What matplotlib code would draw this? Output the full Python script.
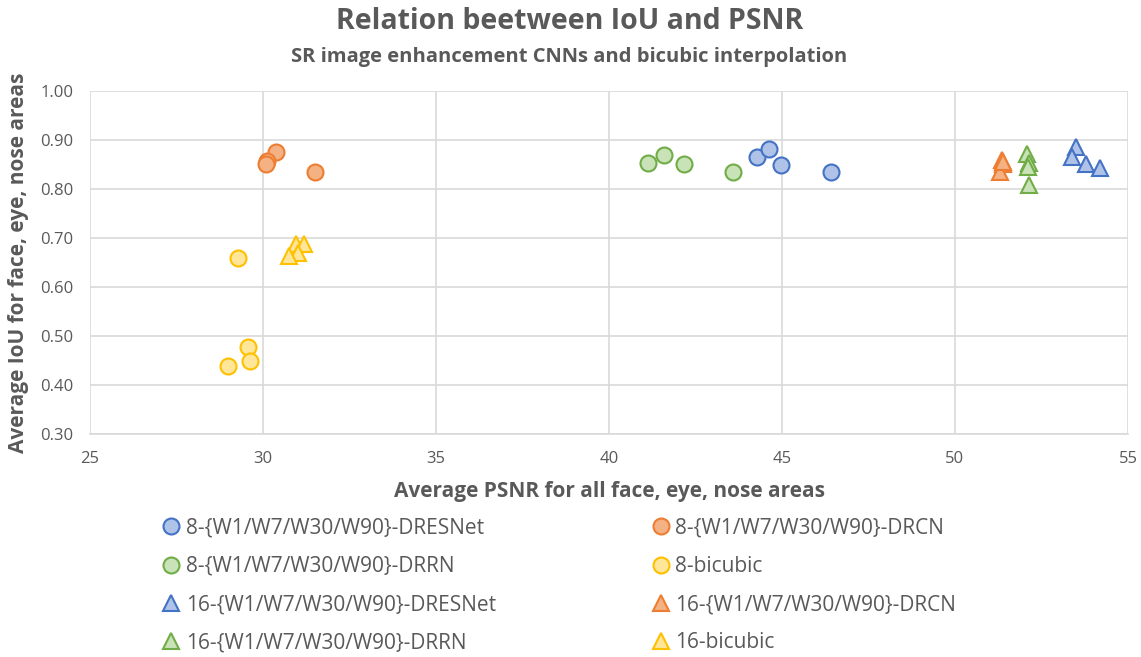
import matplotlib.pyplot as plt
from matplotlib.lines import Line2D

plt.rcParams['font.family'] = ['Open Sans', 'DejaVu Sans']

# PSNR / IoU per model group
dresnet8_x = [44.29, 44.61, 44.98, 46.43]
dresnet8_y = [0.865, 0.882, 0.848, 0.835]
drcn8_x = [30.38, 30.12, 30.10, 31.50]
drcn8_y = [0.875, 0.858, 0.850, 0.835]
drrn8_x = [41.13, 41.59, 42.17, 43.58]
drrn8_y = [0.853, 0.869, 0.852, 0.834]
bicubic8_x = [29.27, 29.56, 29.62, 29.00]
bicubic8_y = [0.659, 0.477, 0.448, 0.439]
dresnet16_x = [53.50, 53.39, 53.80, 54.19]
dresnet16_y = [0.886, 0.866, 0.851, 0.842]
drcn16_x = [51.35, 51.40, 51.30, 51.38]
drcn16_y = [0.860, 0.850, 0.834, 0.855]
drrn16_x = [52.07, 52.15, 52.10, 52.15]
drrn16_y = [0.871, 0.853, 0.844, 0.809]
bicubic16_x = [30.96, 31.18, 31.00, 30.76]
bicubic16_y = [0.688, 0.688, 0.670, 0.663]

blue = ('#AFC3E8', '#4472C4')
orange = ('#F4B183', '#ED7D31')
green = ('#C9E2B8', '#70AD47')
yellow = ('#FFE699', '#FFC000')

series = [
    (dresnet8_x, dresnet8_y, 'o', blue, '8-{W1/W7/W30/W90}-DRESNet'),
    (drrn8_x, drrn8_y, 'o', green, '8-{W1/W7/W30/W90}-DRRN'),
    (dresnet16_x, dresnet16_y, '^', blue, '16-{W1/W7/W30/W90}-DRESNet'),
    (drrn16_x, drrn16_y, '^', green, '16-{W1/W7/W30/W90}-DRRN'),
    (drcn8_x, drcn8_y, 'o', orange, '8-{W1/W7/W30/W90}-DRCN'),
    (bicubic8_x, bicubic8_y, 'o', yellow, '8-bicubic'),
    (drcn16_x, drcn16_y, '^', orange, '16-{W1/W7/W30/W90}-DRCN'),
    (bicubic16_x, bicubic16_y, '^', yellow, '16-bicubic'),
]

gray = '#595959'
fig = plt.figure(figsize=(11.41, 6.57), dpi=100)
ax = fig.add_axes([0.0789, 0.3394, 0.9097, 0.5221])

handles = []
for xs, ys, m, (fc, ec), label in series:
    ms = 11.5 if m == 'o' else 12
    ax.plot(xs, ys, linestyle='none', marker=m, markersize=ms,
            markerfacecolor=fc, markeredgecolor=ec, markeredgewidth=1.5, zorder=3)
    handles.append(Line2D([], [], linestyle='none', marker=m, markersize=ms,
                          markerfacecolor=fc, markeredgecolor=ec,
                          markeredgewidth=1.5, label=label))

ax.set_xlim(25, 55)
ax.set_ylim(0.30, 1.00)
ax.set_xticks(range(25, 56, 5))
ax.set_yticks([0.3 + 0.1 * i for i in range(8)])
ax.set_yticklabels([f'{0.3 + 0.1 * i:.2f}' for i in range(8)])
ax.grid(True, color='#D9D9D9', linewidth=1.2)
ax.set_axisbelow(True)
for s in ['top', 'right', 'left']:
    ax.spines[s].set_visible(False)
ax.spines['bottom'].set_color('#D9D9D9')
ax.spines['bottom'].set_linewidth(1.2)
ax.tick_params(length=0, labelsize=12, colors=gray, pad=12)

ax.set_xlabel('Average PSNR for all face, eye, nose areas', fontsize=15,
              fontweight='bold', color=gray, labelpad=10)
ax.set_ylabel('Average IoU for face, eye, nose areas', fontsize=15,
              fontweight='bold', color=gray, labelpad=8)

fig.text(0.499, 0.968, 'Relation beetween IoU and PSNR', ha='center',
         va='center', fontsize=20.5, fontweight='bold', color=gray)
fig.text(0.499, 0.914, 'SR image enhancement CNNs and bicubic interpolation',
         ha='center', va='center', fontsize=14.5, fontweight='bold', color=gray)

fig.legend(handles=handles, ncol=2, loc='upper left',
           bbox_to_anchor=(0.1337, 0.225), frameon=False, fontsize=15,
           labelcolor=gray, handlelength=1.0, handletextpad=0.2,
           columnspacing=7.4, labelspacing=0.83, borderaxespad=0)

fig.savefig('out.png', dpi=100)
